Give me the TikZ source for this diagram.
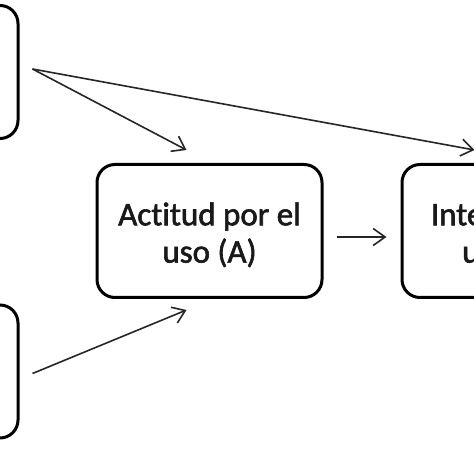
\documentclass[tikz,border=0pt]{standalone}
\usepackage{fontspec}
\setmainfont{Carlito}
\newfontfamily\lblfont{Carlito}[FakeBold=1.8,Ligatures=NoCommon]
\usetikzlibrary{arrows.meta}
\newcommand{\twolines}[2]{\raisebox{-5.5pt}[\height][\depth]{\begin{tabular}{@{}c@{}}#1\\#2\end{tabular}}}
\begin{document}
\begin{tikzpicture}[x=1pt,y=1pt,
  box/.style={draw=black, line width=3pt, rounded corners=18pt, minimum width=225pt, minimum height=133pt, inner sep=0pt, font=\lblfont\fontsize{33}{37.3}\selectfont, text=black!90},
  conn/.style={draw=black!85, line width=1.6pt, -{Straight Barb[length=12pt,width=17pt,line width=1.6pt]}}]
\path[use as bounding box, clip] (0,0) rectangle (474,474);
\fill[white] (0,0) rectangle (474,474);
% boxes
\node[box] (U) at (-94.5,402) {};
\node[box] (E) at (-94.5,102.5) {};
\node[box] (A) at (209.5,243) {\twolines{Actitud por el}{uso (A)}};
\node[box] (I) at (514.5,243) {\twolines{Intención de}{uso (IU)}};
% connector ends
\coordinate (s1) at ([xshift=13pt,yshift=3pt]U.east);
\coordinate (s2) at ([xshift=13pt,yshift=-2pt]E.east);
\coordinate (t1) at ([shift={(91pt,13pt)}]A.north west);
\coordinate (t2) at ([shift={(91pt,-11pt)}]A.south west);
\coordinate (t3) at ([shift={(74pt,13pt)}]I.north west);
\coordinate (m1) at ([xshift=13pt,yshift=-6pt]A.east);
\coordinate (m2) at ([xshift=-14pt,yshift=-6pt]I.west);
% connectors
\draw[conn] (s1) -- (t1);
\draw[conn] (s1) -- (t3);
\draw[conn] (s2) -- (t2);
\draw[conn] (m1) -- (m2);
\end{tikzpicture}
\end{document}
